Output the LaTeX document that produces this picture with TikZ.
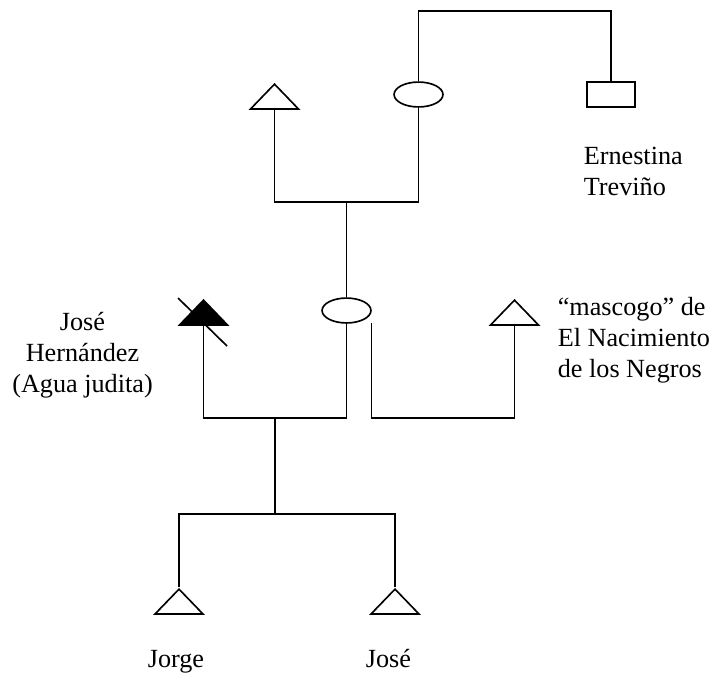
\documentclass[tikz,border=0pt]{standalone}
\usepackage{fontspec}
\setmainfont{Liberation Serif}
\usetikzlibrary{shapes.geometric}
\tikzset{%
	male/.style     = {draw, isosceles triangle, shape border rotate=90,
		isosceles triangle stretches, minimum width=22pt, minimum height=11.4pt,
		inner sep=0pt, anchor=apex},
	female/.style   = {draw, ellipse, minimum width=22.4pt, minimum height=11.4pt,
		inner sep=0pt},
	unknown/.style  = {draw, rectangle, minimum width=22pt, minimum height=11.4pt,
		inner sep=0pt},
	dead/.style     = {male, fill=black},
	label/.style    = {anchor=base west, align=left, inner sep=0pt,
		font=\fontsize{12pt}{14.2pt}\selectfont},
	kin/.style      = {line width=0.75pt}
}

\begin{document}
\begin{tikzpicture}[x=0.458pt, y=-0.458pt, kin]
			\useasboundingbox (0,0) rectangle (714,673);
			
			% first generation
			\node[male]      (gpa)  at (274.5,82)   {};
			\node[female]    (gma)  at (418.5,94.5) {};
			\node[unknown]   (ern)  at (611,94.5)   {};
			\node[label]     (ernl) at (583,195)    {Ernestina\\Treviño};
			
			% second generation
			\node[dead]      (jose) at (203.5,298)  {};
			\node[female]    (mom)  at (346.5,310.5) {};
			\node[male]      (masc) at (514.5,298)  {};
			\node[label, align=center, anchor=base] (josel) at (82.5,392)
			      {José\\Hernández\\(Agua judita)};
			\node[label]     (mascl) at (557,377)   {“mascogo” de\\El Nacimiento\\de los Negros};
			
			% third generation
			\node[male]      (jorge) at (179,587)   {};
			\node[male]      (jose2) at (395,587)   {};
			\node[label]     (jorgel) at (147,667)  {Jorge};
			\node[label]     (jose2l) at (365,667)  {José};
			
			\coordinate (top)  at (418.5,11);
			\coordinate (m1)   at (346.5,202);
			\coordinate (m2)   at (275,418);
			\coordinate (m3)   at (443,418);
			\coordinate (mom2) at (371.5,323);
			\coordinate (m4)   at (275,514);
			
			\draw (gma.north) -- (top) -| (ern.north);
			\draw (gpa.south) |- (m1) -| (gma.south);
			\draw (m1) -- (mom.north);
			\draw (jose.south) |- (m2) -| (mom.south);
			\draw (mom2) |- (m3) -| (masc.south);
			\draw (178,298) -- (227,346);
			\draw (m2) -- (m4);
			\draw (jorge.apex) |- (m4) -| (jose2.apex);
		\end{tikzpicture}
\end{document}
